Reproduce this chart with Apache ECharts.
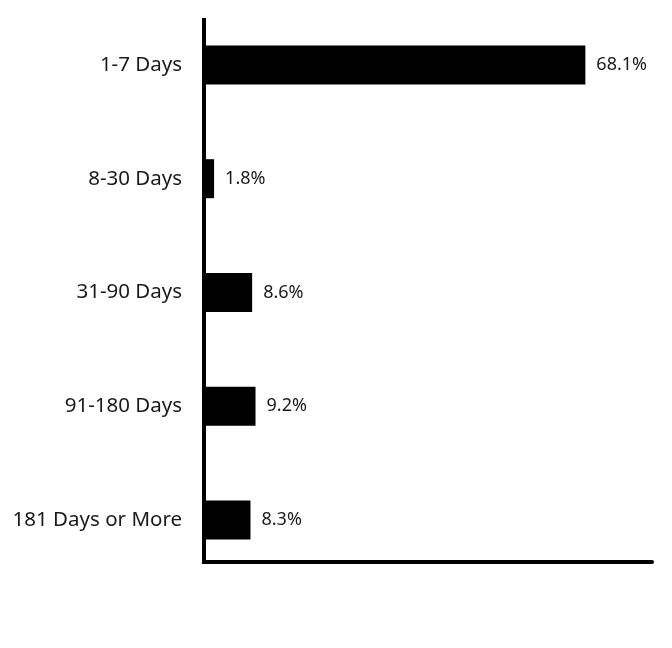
<!DOCTYPE html>
<html><head><meta charset="utf-8">
<script src="https://cdn.jsdelivr.net/npm/echarts@6/dist/echarts.min.js"></script>
<style>html,body{margin:0;padding:0;background:#fff}#c{width:672px;height:648px}</style>
</head><body><div id="c"></div>
<script>
const categories = ["1-7 Days", "8-30 Days", "31-90 Days", "91-180 Days", "181 Days or More"];
const values = [68.1, 1.8, 8.6, 9.2, 8.3];
const valueLabels = ["68.1%", "1.8%", "8.6%", "9.2%", "8.3%"];

const chart = echarts.init(document.getElementById('c'), null, {renderer: 'canvas'});
const font = '"Noto Sans", Lato, sans-serif';
chart.setOption({
  animation: false,
  backgroundColor: '#fff',
  grid: [
    {left: 204, right: 20, top: 8, bottom: 71},
    {left: 204, right: 20, top: 20, bottom: 86}
  ],
  xAxis: [
    {gridIndex: 0, type: 'value', min: 0, max: 80, show: false},
    {gridIndex: 1, type: 'value', min: 0, max: 80, axisLine: {show: true, lineStyle: {color: '#000', width: 4}},
     axisTick: {show: false}, axisLabel: {show: false}, splitLine: {show: false}}
  ],
  yAxis: [
    {gridIndex: 0, type: 'category', data: categories, inverse: true,
     axisLine: {show: false}, axisTick: {show: false}, splitLine: {show: false},
     axisLabel: {color: '#1a1a1a', fontFamily: font, fontSize: 20.5, margin: 22, padding: [0, 0, -4, 0]}},
    {gridIndex: 1, type: 'value', min: 0, max: 1,
     axisLine: {show: true, lineStyle: {color: '#000', width: 4, cap: 'square'}},
     axisTick: {show: false}, axisLabel: {show: false}, splitLine: {show: false}}
  ],
  series: [{
    type: 'bar', xAxisIndex: 0, yAxisIndex: 0,
    data: values, barWidth: 39,
    itemStyle: {color: '#000'},
    label: {show: true, position: 'right', distance: 11, color: '#1a1a1a', fontFamily: font, fontSize: 18,
      formatter: p => valueLabels[p.dataIndex]}
  }]
});
</script></body></html>
